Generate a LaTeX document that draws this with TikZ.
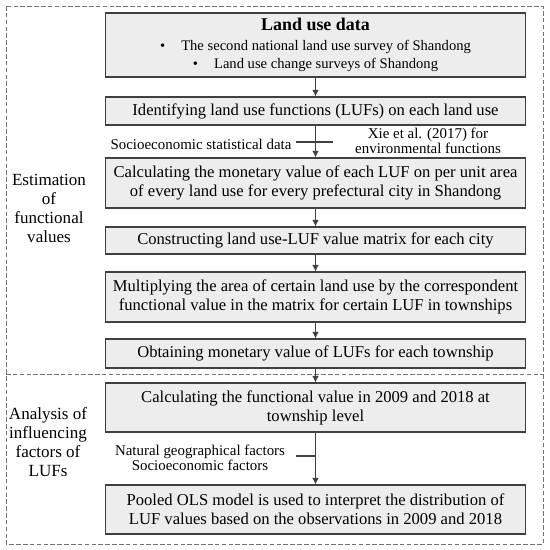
\documentclass[tikz,border=0pt]{standalone}
\usepackage{fontspec}
\setmainfont{Liberation Serif}
\usetikzlibrary{arrows.meta}

\begin{document}
\begin{tikzpicture}[
  x=0.02cm, y=-0.02cm,
  font=\fontsize{9.45}{10.8}\selectfont,
  box/.style={draw=black!75, line width=0.6pt, fill=black!7, align=center, minimum width=8.42cm, inner sep=1pt},
  note/.style={font=\fontsize{8.5}{8.6}\selectfont, align=center, inner sep=1pt},
  side/.style={font=\fontsize{9.7}{10.8}\selectfont, align=center, inner sep=1pt},
  flow/.style={-{Latex[length=1.3mm, width=1.3mm]}, line width=0.6pt, black!75},
  tick/.style={line width=0.6pt, black!75},
  frame/.style={draw=black!55, line width=0.55pt, dash pattern=on 2.6pt off 1.3pt}]

\useasboundingbox (0,0) rectangle (550,550);

% ---------- dashed frames
\draw[frame] (6,6) rectangle (543,544);
\draw[frame] (6,374) -- (543,374);

% ---------- boxes
\node[box, minimum height=1.28cm] (B1) at (315.5,45) {{\fontsize{10.2}{10.2}\selectfont\bfseries Land use data}\\[0.8pt]
  {\fontsize{8.3}{9.1}\selectfont\textbullet\hspace{1.1em}The second national land use survey of Shandong}\\[-0.4pt]
  {\fontsize{8.3}{9.1}\selectfont\textbullet\hspace{1.1em}Land use change surveys of Shandong}};
\node[box, minimum height=0.56cm] (B2) at (315.5,111) {Identifying land use functions (LUFs) on each land use};
\node[box, minimum height=1.0cm] (B3) at (315.5,183) {Calculating the monetary value of each LUF on per unit area\\of every land use for every prefectural city in Shandong};
\node[box, minimum height=0.54cm] (B4) at (315.5,240.5) {Constructing land use-LUF value matrix for each city};
\node[box, minimum height=1.0cm] (B5) at (315.5,297) {Multiplying the area of certain land use by the correspondent\\functional value in the matrix for certain LUF in townships};
\node[box, minimum height=0.58cm] (B6) at (315.5,353.5) {Obtaining monetary value of LUFs for each township};
\node[box, minimum height=0.98cm] (B7) at (315.5,407.5) {Calculating the functional value in 2009 and 2018 at\\township level};
\node[box, minimum height=0.98cm] (B8) at (315.5,509.5) {Pooled OLS model is used to interpret the distribution of\\LUF values based on the observations in 2009 and 2018};

% ---------- stage labels
\node[side] (S1) at (49,208) {Estimation\\of\\functional\\values};
\node[side] (S2) at (48,442) {Analysis of\\influencing\\factors of\\LUFs};

% ---------- side inputs
\node[note] (N1) at (201,144) {Socioeconomic statistical data};
\node[note] (N2) at (428,141) {Xie et al. (2017) for\\environmental functions};
\node[note] (N3) at (200,458) {Natural geographical factors\\Socioeconomic factors};
\coordinate (t1) at (296,142);
\coordinate (t2) at (333,142);
\coordinate (t3) at (296,456);
\coordinate (t4) at (315.5,456);

% ---------- arrows
\draw[flow] (B1) -- (B2);
\draw[flow] (B2) -- (B3);
\draw[flow] (B3) -- (B4);
\draw[flow] (B4) -- (B5);
\draw[flow] (B5) -- (B6);
\draw[flow] (B6) -- (B7);
\draw[flow] (B7) -- (B8);
\draw[tick] (t1) -- (t2);
\draw[tick] (t3) -- (t4);
\end{tikzpicture}
\end{document}
